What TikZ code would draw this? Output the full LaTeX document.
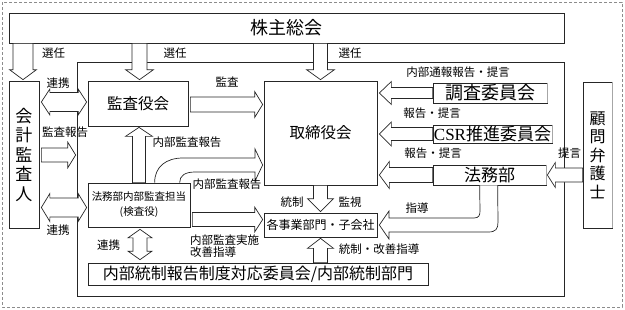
\documentclass[tikz,border=0pt]{standalone}
\usepackage{fontspec}
\setmainfont{Noto Sans CJK JP}
\newfontfamily\latinserif{Liberation Serif}
\usetikzlibrary{calc}
\newcommand\fsz[2]{\fontsize{#1}{#2}\selectfont}
\tikzset{
  lw/.style={draw=black!85, line width=0.7pt},
  box/.style={lw, fill=white, inner sep=0pt, align=center},
  blk/.style={lw, fill=white, line join=miter},
  lbl/.style={inner sep=0pt, font=\fsz{11.5}{12}},
  grayedge/.style={draw=black!35, line width=1.3pt},
}
% single block arrow: start, tip, shaft half width, head half width, head length
\newcommand\barrow[5]{%
  \path ($(#2)!#5!(#1)$) coordinate (bh);
  \draw[blk] ($(#1)!#3!90:(#2)$) -- ($(bh)!#3!-90:(#1)$) -- ($(bh)!#4!-90:(#1)$)
    -- (#2) -- ($(bh)!#4!90:(#1)$) -- ($(bh)!#3!90:(#1)$) -- ($(#1)!#3!-90:(#2)$) -- cycle;}
% double block arrow
\newcommand\dbarrow[5]{%
  \path ($(#1)!#5!(#2)$) coordinate (ah) ($(#2)!#5!(#1)$) coordinate (bh);
  \draw[blk] (#1) -- ($(ah)!#4!90:(#2)$) -- ($(ah)!#3!90:(#2)$) -- ($(bh)!#3!-90:(#1)$)
    -- ($(bh)!#4!-90:(#1)$) -- (#2) -- ($(bh)!#4!90:(#1)$) -- ($(bh)!#3!90:(#1)$)
    -- ($(ah)!#3!-90:(#2)$) -- ($(ah)!#4!-90:(#2)$) -- cycle;}
\begin{document}
\begin{tikzpicture}[x=1pt,y=-1pt]
\useasboundingbox (0,0) rectangle (625,309);
\draw[black!45, dash pattern=on 3pt off 2pt, line width=0.6pt] (2,2) rectangle (622,307);
\node[lw, minimum width=487pt, minimum height=234pt, inner sep=0pt] (frame) at (320.5,179) {};

% boxes
\node[box, minimum width=555pt, minimum height=30pt, font=\fsz{18}{20}] (sh) at (286.5,28) {株主総会};
\node[box, minimum width=30pt, minimum height=147pt, font=\fsz{17}{19.5}] (kaikei) at (24,154.5) {会\\計\\監\\査\\人};
\node[box, minimum width=100pt, minimum height=45pt, font=\fsz{15.5}{17}] (kansa) at (138,103.5) {監査役会};
\node[box, minimum width=113pt, minimum height=104pt, font=\fsz{15.5}{17}] (tori) at (320.5,133) {取締役会};
\node[box, minimum width=102pt, minimum height=44pt, font=\fsz{10.5}{15}] (hn) at (139,205) {法務部内部監査担当\\(検査役)};
\node[box, minimum width=113pt, minimum height=24pt, font=\fsz{12}{14}] (jigyo) at (320.5,225) {各事業部門・子会社};
\node[box, minimum width=340pt, minimum height=22pt, font=\fsz{16}{18}] (nt) at (258,274) {内部統制報告制度対応委員会/内部統制部門};
\node[box, minimum width=114pt, minimum height=20pt, font=\fsz{18}{20}] (chosa) at (490,93) {調査委員会};
\node[box, minimum width=119pt, minimum height=18pt, font=\fsz{17}{19}] (csr) at (492.5,134) {{\latinserif CSR}推進委員会};
\node[box, minimum width=113pt, minimum height=20pt, font=\fsz{17}{19}] (homu) at (489.5,175) {法務部};
\node[box, minimum width=29pt, minimum height=146pt, font=\fsz{16}{18.5}] (komon) at (597.5,155) {顧\\問\\弁\\護\\士};
\foreach \b in {chosa,csr,homu,komon}
  \draw[grayedge] (\b.north east) -- (\b.south east);

% straight block arrows
\coordinate (a1s) at ($(sh.south -| kaikei.north)+(-1,0)$);
\coordinate (a1e) at ($(kaikei.north)+(-1,-1)$);
\barrow{a1s}{a1e}{10pt}{13.5pt}{10pt}
\coordinate (a2s) at ($(sh.south -| kansa.north)+(1.5,0)$);
\coordinate (a2e) at ($(kansa.north)+(1.5,-1)$);
\barrow{a2s}{a2e}{7.5pt}{14pt}{10pt}
\coordinate (a3s) at (sh.south -| tori.north);
\coordinate (a3e) at ($(tori.north)+(0,-1)$);
\barrow{a3s}{a3e}{7pt}{14pt}{10pt}
\coordinate (a4s) at ($(kansa.east)+(2,1)$);
\coordinate (a4e) at ($(tori.west |- kansa.east)+(-1,1)$);
\barrow{a4s}{a4e}{7.5pt}{13pt}{8pt}
\coordinate (a5s) at ($(kaikei.east |- kansa.west)+(2,-1.5)$);
\coordinate (a5e) at ($(kansa.west)+(-1,-1.5)$);
\dbarrow{a5s}{a5e}{9.5pt}{13pt}{8.5pt}
\coordinate (a6s) at ($(kaikei.east)+(2,0.5)$);
\coordinate (a6e) at ($(kaikei.east -| frame.west)+(-1,0.5)$);
\barrow{a6s}{a6e}{7pt}{13pt}{8pt}
\coordinate (a7s) at ($(kaikei.east |- hn.west)+(2,2.5)$);
\coordinate (a7e) at ($(hn.west)+(-1,2.5)$);
\dbarrow{a7s}{a7e}{9.5pt}{14pt}{8.5pt}
\coordinate (a8s) at (hn.north);
\coordinate (a8e) at ($(hn.north |- kansa.south)+(0,1)$);
\barrow{a8s}{a8e}{6.5pt}{13.5pt}{9pt}
\coordinate (a9s) at ($(hn.east |- jigyo.west)+(2,-5.5)$);
\coordinate (a9e) at ($(jigyo.west)+(-1,-5.5)$);
\barrow{a9s}{a9e}{7pt}{12.5pt}{8pt}
\coordinate (a10s) at (tori.south);
\coordinate (a10e) at ($(jigyo.north)+(0,-1)$);
\barrow{a10s}{a10e}{7pt}{13pt}{13pt}
\coordinate (a11s) at (nt.north -| jigyo.south);
\coordinate (a11e) at ($(jigyo.south)+(0,1)$);
\barrow{a11s}{a11e}{7pt}{13pt}{10pt}
\coordinate (a12s) at ($(hn.south)+(1,2)$);
\coordinate (a12e) at ($(hn.south |- nt.north)+(1,-3)$);
\dbarrow{a12s}{a12e}{7pt}{12pt}{8.5pt}
\coordinate (a13s) at (chosa.west);
\coordinate (a13e) at ($(chosa.west -| tori.east)+(2,0)$);
\barrow{a13s}{a13e}{5.5pt}{11.5pt}{12pt}
\coordinate (a14s) at (csr.west);
\coordinate (a14e) at ($(csr.west -| tori.east)+(2,0)$);
\barrow{a14s}{a14e}{6.5pt}{12pt}{12pt}
\coordinate (a15s) at (homu.west);
\coordinate (a15e) at ($(homu.west -| tori.east)+(2,0)$);
\barrow{a15s}{a15e}{7.5pt}{13.5pt}{10pt}
\coordinate (a16s) at (komon.west |- homu.east);
\coordinate (a16e) at ($(homu.east)+(1,0)$);
\barrow{a16s}{a16e}{7pt}{12.5pt}{8pt}

% curved arrows
\draw[blk] ($(hn.north west)+(67,0)$) .. controls +(0,-16) and +(-17,0) .. (183,158)
  -- (255,158) -- (255,149) -- ($(tori.west)+(-1,32)$) -- (255,181) -- (255,172)
  -- (195,172) .. controls +(-10,0) and +(0,-7) .. ($(hn.north west)+(92,0)$);
\draw[blk] ($(homu.south west)+(65,0)$) -- (498,222) .. controls +(0,7) and +(8,0) .. (488,232)
  -- (389,232) -- (389,239) -- ($(jigyo.east)+(2,0)$) -- (389,211) -- (389,218)
  -- (474,218) .. controls +(5,0) and +(0,4) .. (480,211) -- ($(homu.south west)+(47,0)$);

% labels
\node[lbl] (l1) at (53.5,53) {選任};
\node[lbl] (l2) at (175,53) {選任};
\node[lbl] (l3) at (350,53) {選任};
\node[lbl] (l4) at (58,83) {連携};
\node[lbl] (l5) at (227,82) {監査};
\node[lbl] (l6) at (65,132) {監査報告};
\node[lbl] (l7) at (187,142) {内部監査報告};
\node[lbl] (l8) at (227,184) {内部監査報告};
\node[lbl] (l9) at (58,230) {連携};
\node[lbl] (l10) at (108.5,245) {連携};
\node[lbl, align=left, anchor=west, font=\fsz{11.5}{11.5}] (l11) at (190,246) {内部監査実施\\改善指導};
\node[lbl] (l12) at (292,202) {統制};
\node[lbl] (l13) at (350,202) {監視};
\node[lbl] (l14) at (379,249) {統制・改善指導};
\node[lbl] (l15) at (458,72) {内部通報報告・提言};
\node[lbl] (l16) at (432,113) {報告・提言};
\node[lbl] (l17) at (433,153) {報告・提言};
\node[lbl] (l18) at (417,208) {指導};
\node[lbl] (l19) at (569.5,153) {提言};
\end{tikzpicture}
\end{document}
